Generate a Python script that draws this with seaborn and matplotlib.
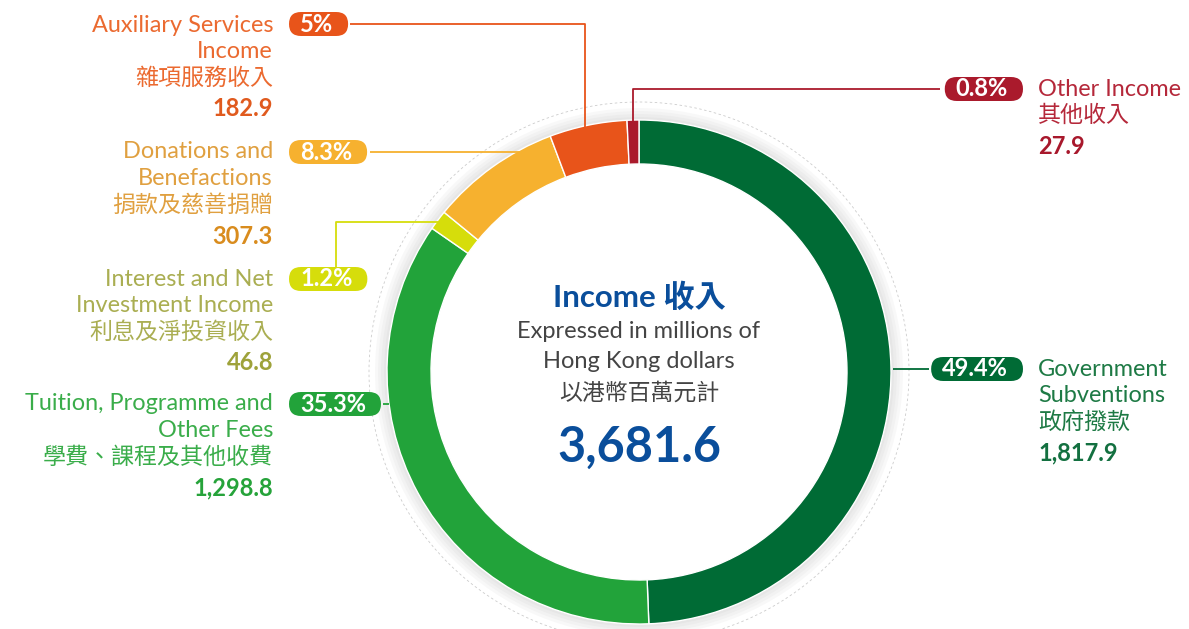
import matplotlib.pyplot as plt
import seaborn as sns
from matplotlib.patches import FancyBboxPatch

# Data
categories_en = ["Government\nSubventions", "Tuition, Programme and\nOther Fees",
                 "Interest and Net\nInvestment Income", "Donations and\nBenefactions",
                 "Auxiliary Services\nIncome", "Other Income"]
categories_zh = ["政府撥款", "學費、課程及其他收費", "利息及淨投資收入",
                 "捐款及慈善捐贈", "雜項服務收入", "其他收入"]
values = [1817.9, 1298.8, 46.8, 307.3, 182.9, 27.9]
pct_labels = ["49.4%", "35.3%", "1.2%", "8.3%", "5%", "0.8%"]
total_label = "3,681.6"

ring_colors = ["#006b35", "#22a33a", "#d6dd0b", "#f6b12f", "#e8541a", "#aa1a2c"]
text_colors = ["#1e7a45", "#3aad4a", "#aaae52", "#e0a040", "#eb6a30", "#b5283a"]
value_colors = ["#137040", "#26a33a", "#9ea23a", "#d98c1e", "#e05a1e", "#a8182c"]

sns.set_theme(style="white")
plt.rcParams["font.family"] = ["Lato", "Noto Sans CJK TC", "DejaVu Sans"]

W, H = 1189, 629
fig = plt.figure(figsize=(W / 100, H / 100), dpi=100)
ax = fig.add_axes([0, 0, 1, 1])

cx, cy = 639, H - 372
R, ring_w = 252, 44

# soft shadow around the ring
for i in range(4):
    ax.pie([1], radius=R + 3 + i * 3, center=(cx, cy), colors=["#888888"],
           wedgeprops=dict(width=ring_w + 24 + i * 7, alpha=0.05, linewidth=0))
ax.pie([1], radius=R - ring_w, center=(cx, cy), colors=["white"],
       wedgeprops=dict(width=R - ring_w - 14, linewidth=0))
ax.pie(values, radius=R, center=(cx, cy), startangle=90, counterclock=False,
       colors=ring_colors, wedgeprops=dict(width=ring_w, edgecolor="white", linewidth=1))
circ = plt.Circle((cx, cy), R + 18, fill=False, ec="#cccccc", lw=0.6, ls=(0, (3, 3)))
ax.add_patch(circ)

ax.set_xlim(0, W)
ax.set_ylim(0, H)
ax.set_aspect("equal")
ax.axis("off")

def Y(y):
    return H - y

# label blocks: (x, first line y, align)
blocks = {
    0: (1038, 369, "left"),
    1: (273, 404, "right"),
    2: (273, 279, "right"),
    3: (273, 152, "right"),
    4: (273, 25, "right"),
    5: (1038, 89, "left"),
}
line_h = 26.5
for i, (x, y0, ha) in blocks.items():
    en_lines = categories_en[i].split("\n")
    for j, ln in enumerate(en_lines):
        ax.text(x, Y(y0 + j * line_h), ln, ha=ha, va="center", fontsize=16.9,
                color=text_colors[i])
    n = len(en_lines)
    ax.text(x, Y(y0 + n * line_h), categories_zh[i], ha=ha, va="center", fontsize=16.6,
            color=text_colors[i], family=["Noto Sans CJK TC"], fontweight="light")
    ax.text(x, Y(y0 + n * line_h + 31), f"{values[i]:,.1f}", ha=ha, va="center",
            fontsize=17, color=value_colors[i], fontweight="bold")

# percentage pills: (anchor x, y, side)
pills = {
    0: (1023, 369, "right"),
    1: (289, 404, "left"),
    2: (289, 279, "left"),
    3: (289, 152, "left"),
    4: (289, 24, "left"),
    5: (1023, 89, "right"),
}
pad_l, pad_r, pill_h = 11, 15, 24
pill_texts = {}
for i, (x, y, side) in pills.items():
    tx = x + pad_l if side == "left" else x - pad_r
    ha = "left" if side == "left" else "right"
    pill_texts[i] = ax.text(tx, Y(y), pct_labels[i], ha=ha, va="center", fontsize=17,
                            color="white", fontweight="bold", zorder=4)
fig.canvas.draw()
renderer = fig.canvas.get_renderer()
for i, t in pill_texts.items():
    bb = t.get_window_extent(renderer).transformed(ax.transData.inverted())
    x0, x1 = bb.x0 - pad_l, bb.x1 + pad_r
    y = Y(pills[i][1])
    ax.add_patch(FancyBboxPatch((x0, y - pill_h / 2), x1 - x0, pill_h,
                                boxstyle=f"round,pad=0,rounding_size={pill_h / 2}",
                                fc=ring_colors[i], ec="none", zorder=3))

# leader lines
leaders = {
    0: ([893, 929], [369, 369]),
    1: ([383, 389], [404, 404]),
    2: ([336, 336, 441], [267, 222, 222]),
    3: ([370, 523], [152, 152]),
    4: ([350, 585, 585], [24, 24, 127]),
    5: ([940, 633, 633], [89, 89, 124]),
}
for i, (xs, ys) in leaders.items():
    ax.plot(xs, [Y(v) for v in ys], color=ring_colors[i], lw=1.3, zorder=1,
            solid_capstyle="butt")

# centre text
blue = "#0a4e9b"
ax.text(cx, Y(297), "Income 收入", ha="center", va="center", fontsize=22.5,
        fontweight="bold", color=blue)
ax.text(cx, Y(331), "Expressed in millions of", ha="center", va="center",
        fontsize=17, color="#444444")
ax.text(cx, Y(362), "Hong Kong dollars", ha="center", va="center",
        fontsize=17, color="#444444")
ax.text(cx, Y(393), "以港幣百萬元計", ha="center", va="center", fontsize=16.5,
        color="#444444", family=["Noto Sans CJK TC"], fontweight="light")
ax.text(cx, Y(447), total_label, ha="center", va="center", fontsize=35,
        fontweight="bold", color=blue)

fig.savefig("out.png", dpi=100)
